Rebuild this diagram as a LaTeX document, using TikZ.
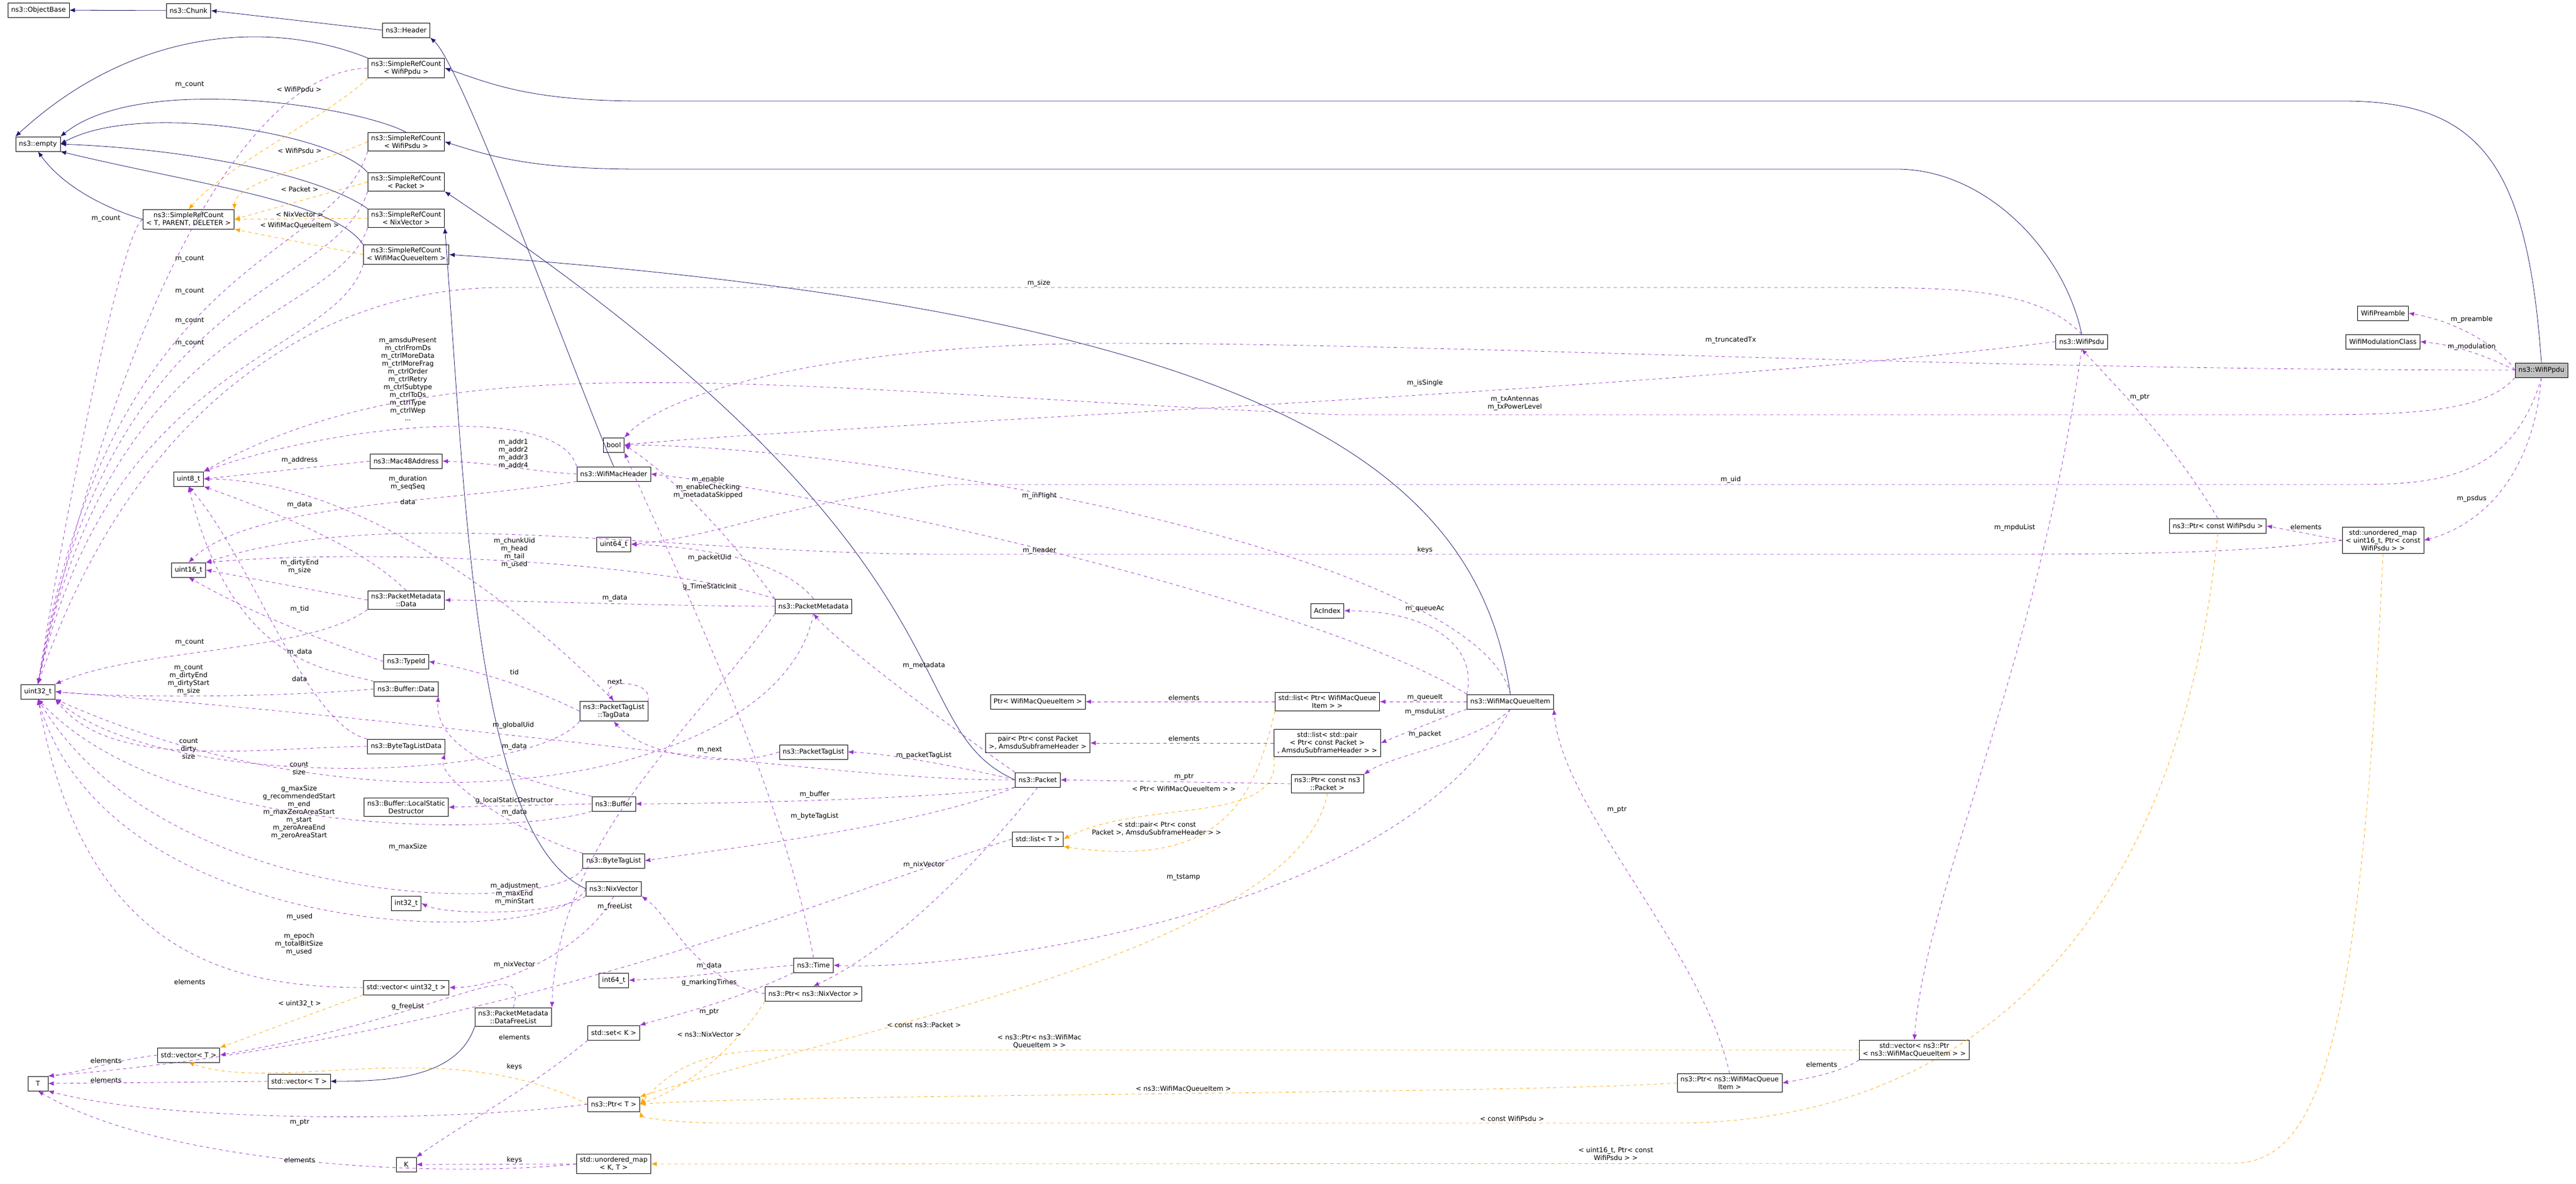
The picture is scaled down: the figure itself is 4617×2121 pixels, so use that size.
\documentclass[tikz,border=0pt]{standalone}
\usepackage{fontspec}
\setmainfont{DejaVu Sans}
\usetikzlibrary{arrows.meta}

\definecolor{inhblue}{RGB}{25,25,112}
\definecolor{usepurple}{RGB}{154,50,205}
\definecolor{tplorange}{RGB}{255,165,0}

\tikzset{
  cls/.style={draw=black, thin, fill=white, align=center, inner xsep=3pt, inner ysep=2.5pt,
    minimum height=13pt, font=\fontsize{6}{7}\selectfont},
  main/.style={cls, fill=black!25},
  lbl/.style={align=center, inner sep=0.5pt, font=\fontsize{6}{7}\selectfont},
  inh/.style={draw=inhblue, thin, -{Latex[length=5pt,width=4pt]}},
  use/.style={draw=usepurple, thin, dashed, -{Latex[length=5pt,width=4pt]}},
  tpl/.style={draw=tplorange, thin, dashed, -{Latex[length=5pt,width=4pt]}}
}

\begin{document}
\begin{tikzpicture}[x=0.5pt, y=-0.5pt]
  \useasboundingbox (0,0) rectangle (4617,2121);

  % classes, left part
  \node[cls] (objbase) at (69,18) {ns3::ObjectBase};
  \node[cls] (chunk) at (338,19) {ns3::Chunk};
  \node[cls] (header) at (728,54) {ns3::Header};
  \node[cls] (srcppdu) at (728,122) {ns3::SimpleRefCount\\< WifiPpdu >};
  \node[cls] (empty) at (68,258) {ns3::empty};
  \node[cls] (srcpsdu) at (728,254) {ns3::SimpleRefCount\\< WifiPsdu >};
  \node[cls] (srcpkt) at (728,326) {ns3::SimpleRefCount\\< Packet >};
  \node[cls] (srctpd) at (338,393) {ns3::SimpleRefCount\\< T, PARENT, DELETER >};
  \node[cls] (srcnix) at (728,391) {ns3::SimpleRefCount\\< NixVector >};
  \node[cls] (srcmqi) at (728,456) {ns3::SimpleRefCount\\< WifiMacQueueItem >};
  \node[cls] (bool) at (1100,797) {bool};
  \node[cls] (mac48) at (728,826) {ns3::Mac48Address};
  \node[cls] (wmh) at (1100,849) {ns3::WifiMacHeader};
  \node[cls] (u8) at (338,858) {uint8\_t};
  \node[cls] (u64) at (1100,975) {uint64\_t};
  \node[cls] (u16) at (338,1021) {uint16\_t};
  \node[cls] (pmdata) at (728,1075) {ns3::PacketMetadata\\::Data};
  \node[cls] (typeid) at (728,1185) {ns3::TypeId};
  \node[cls] (bufdata) at (728,1234) {ns3::Buffer::Data};
  \node[cls] (u32) at (68,1239) {uint32\_t};
  \node[cls] (tagdata) at (1100,1274) {ns3::PacketTagList\\::TagData};
  \node[cls] (btldata) at (728,1337) {ns3::ByteTagListData};
  \node[cls] (buffer) at (1100,1440) {ns3::Buffer};
  \node[cls] (lsd) at (728,1446) {ns3::Buffer::LocalStatic\\Destructor};
  \node[cls] (btl) at (1100,1542) {ns3::ByteTagList};
  \node[cls] (nixv) at (1100,1592) {ns3::NixVector};
  \node[cls] (i32) at (728,1618) {int32\_t};
  \node[cls] (i64) at (1100,1756) {int64\_t};
  \node[cls] (vecu32) at (728,1769) {std::vector< uint32\_t >};
  \node[cls] (dfl) at (920,1822) {ns3::PacketMetadata\\::DataFreeList};
  \node[cls] (setk) at (1100,1850) {std::set< K >};
  \node[cls] (vect) at (338,1890) {std::vector< T >};
  \node[cls] (vectb) at (536,1937) {std::vector< T >};
  \node[cls, minimum width=18pt] (tt) at (68,1941) {T};
  \node[cls] (ptrt) at (1100,1978) {ns3::Ptr< T >};
  \node[cls] (umapkt) at (1100,2085) {std::unordered\_map\\< K, T >};
  \node[cls, minimum width=18pt] (kk) at (728,2086) {K};

  % classes, middle part
  \node[cls] (pmeta) at (1458,1086) {ns3::PacketMetadata};
  \node[cls] (ptl) at (1458,1347) {ns3::PacketTagList};
  \node[cls] (time) at (1458,1729) {ns3::Time};
  \node[cls] (ptrnix) at (1458,1780) {ns3::Ptr< ns3::NixVector >};
  \node[cls] (ptrmqitxt) at (1860,1257) {Ptr< WifiMacQueueItem >};
  \node[cls] (pairbox) at (1860,1331) {pair< Ptr< const Packet\\ >, AmsduSubframeHeader >};
  \node[cls] (packet) at (1860,1397) {ns3::Packet};
  \node[cls] (listt) at (1860,1503) {std::list< T >};
  \node[cls] (acidx) at (2379,1094) {AcIndex};
  \node[cls] (listptr) at (2379,1257) {std::list< Ptr< WifiMacQueue\\Item > >};
  \node[cls] (listpair) at (2379,1331) {std::list< std::pair\\< Ptr< const Packet >\\, AmsduSubframeHeader > >};
  \node[cls] (ptrcpkt) at (2379,1404) {ns3::Ptr< const ns3\\::Packet >};
  \node[cls] (wmqi) at (2707,1257) {ns3::WifiMacQueueItem};

  % classes, right part
  \node[cls] (wpsdu) at (3731,612) {ns3::WifiPsdu};
  \node[cls] (preamble) at (4271,561) {WifiPreamble};
  \node[cls] (modclass) at (4271,612) {WifiModulationClass};
  \node[main] (wppdu) at (4555,663) {ns3::WifiPpdu};
  \node[cls] (ptrcpsdu) at (3975,942) {ns3::Ptr< const WifiPsdu >};
  \node[cls] (umap16) at (4271,968) {std::unordered\_map\\< uint16\_t, Ptr< const\\WifiPsdu > >};
  \node[cls] (vecptrmqi) at (3431,1881) {std::vector< ns3::Ptr\\< ns3::WifiMacQueueItem > >};
  \node[cls] (ptrmqi) at (3100,1940) {ns3::Ptr< ns3::WifiMacQueue\\Item >};

  % inheritance
  \draw[inh] (chunk) -- (objbase);
  \draw[inh] (header.west) -- (chunk.east);
  \draw[inh] (srcppdu.north west) .. controls (500,40) and (250,40) .. (empty.north west);
  \draw[inh] (srcpsdu.north) .. controls (640,190) and (250,130) .. (empty.north east);
  \draw[inh] (srcpkt.north west) .. controls (600,240) and (250,180) .. (empty.east);
  \draw[inh] (srcnix.north west) .. controls (600,330) and (400,270) .. (empty.east);
  \draw[inh] (srcmqi.north west) .. controls (600,360) and (350,330) .. (empty.south east);
  \draw[inh] (srctpd.west) .. controls (180,370) and (110,330) .. (empty.south);
  \draw[inh] (wmh.north) .. controls (1040,700) and (830,120) .. (header.south east);
  \draw[inh] (wppdu.north) .. controls (4530,300) and (4450,181) .. (4200,181) -- (1150,181)
    .. controls (950,181) and (880,150) .. (srcppdu.east);
  \draw[inh] (wpsdu.north) .. controls (3700,450) and (3560,303) .. (3400,303) -- (1150,303)
    .. controls (950,303) and (880,280) .. (srcpsdu.east);
  \draw[inh] (packet.west) .. controls (1600,1300) and (1780,1000) .. (srcpkt.south east);
  \draw[inh] (nixv.west) .. controls (850,1500) and (835,900) .. (srcnix.south east);
  \draw[inh] (wmqi.north) .. controls (2650,850) and (2300,560) .. (srcmqi.east);
  \draw[inh] (dfl.south west) .. controls (820,1930) and (700,1937) .. (vectb.east);

  % template instances
  \draw[tpl] (srcppdu.south west) .. controls (600,200) and (400,300) .. (srctpd.north);
  \draw[tpl] (srcpsdu.west) .. controls (550,300) and (420,330) .. (srctpd.north east);
  \draw[tpl] (srcpkt.west) -- (srctpd.east);
  \draw[tpl] (srcnix.west) -- (srctpd.east);
  \draw[tpl] (srcmqi.west) -- (srctpd.south east);
  \draw[tpl] (vecu32.south west) -- (vect.north east);
  \draw[tpl] (listpair.south west) .. controls (2300,1480) and (2050,1430) .. (listt.east);
  \draw[tpl] (listptr.south west) .. controls (2250,1420) and (2200,1560) .. (listt.south east);
  \draw[tpl] (ptrcpkt.south) .. controls (2330,1700) and (1500,1850) .. (ptrt.north east);
  \draw[tpl] (ptrnix.south west) .. controls (1330,1860) and (1250,1940) .. (ptrt.east);
  \draw[tpl] (vecptrmqi.west) -- (1400,1881) .. controls (1250,1881) and (1200,1920) .. (ptrt.east);
  \draw[tpl] (ptrmqi.west) .. controls (2700,1960) and (1400,1960) .. (ptrt.east);
  \draw[tpl] (ptrcpsdu.south) .. controls (3900,1700) and (3500,2012) .. (3000,2012)
    -- (1300,2012) .. controls (1200,2012) and (1150,2000) .. (ptrt.south east);
  \draw[tpl] (umap16.south) .. controls (4230,1900) and (4150,2084) .. (4000,2084) -- (umapkt.east);
  \draw[tpl] (ptrt.west) .. controls (800,1850) and (500,1960) .. (vect.south);

  % members, left part
  \draw[use] (srcppdu.west) .. controls (400,130) and (180,700) .. (u32.north);
  \draw[use] (srctpd.west) .. controls (220,410) and (120,900) .. (u32.north);
  \draw[use] (srcpsdu.south west) .. controls (600,470) and (200,450) .. (u32.north);
  \draw[use] (srcpkt.south west) .. controls (600,530) and (200,500) .. (u32.north);
  \draw[use] (srcnix.south west) .. controls (600,580) and (200,560) .. (u32.north);
  \draw[use] (srcmqi.south west) .. controls (600,640) and (200,640) .. (u32.north);
  \draw[use] (wmh.north west) .. controls (1000,720) and (600,760) .. (u8.north east);
  \draw[use] (wmh.west) .. controls (950,845) and (900,830) .. (mac48.east);
  \draw[use] (wmh.south west) .. controls (800,900) and (450,900) .. (u16.north);
  \draw[use] (mac48.west) -- (u8.east);
  \draw[use] (pmdata.north) .. controls (650,980) and (500,920) .. (u8.south east);
  \draw[use] (pmdata.west) -- (u16.east);
  \draw[use] (pmdata.south west) .. controls (550,1170) and (250,1160) .. (u32.north east);
  \draw[use] (typeid.west) .. controls (500,1120) and (420,1080) .. (u16.south);
  \draw[use] (bufdata.north west) .. controls (600,1200) and (420,1200) .. (u8.south);
  \draw[use] (bufdata.west) .. controls (500,1250) and (200,1250) .. (u32.east);
  \draw[use] (btldata.north west) .. controls (550,1300) and (450,1000) .. (u8.south);
  \draw[use] (btldata.west) .. controls (450,1340) and (200,1380) .. (u32.south east);
  \draw[use] (tagdata.north) .. controls (950,1100) and (650,860) .. (u8.east);
  \draw[use] (tagdata.west) .. controls (950,1230) and (850,1200) .. (typeid.east);
  \draw[use] (tagdata.north east) .. controls +(10,-40) and +(-30,-40) .. (tagdata.north);
  \draw[use] (tagdata.south west) .. controls (950,1400) and (300,1420) .. (u32.south east);
  \draw[use] (buffer.west) -- (lsd.east);
  \draw[use] (buffer.south west) .. controls (900,1500) and (300,1500) .. (u32.south);
  \draw[use] (buffer.north west) .. controls (850,1380) and (780,1320) .. (bufdata.south east);
  \draw[use] (btl.north west) .. controls (950,1500) and (780,1400) .. (btldata.south east);
  \draw[use] (btl.south west) .. controls (1000,1640) and (300,1640) .. (u32.south);
  \draw[use] (nixv.south west) .. controls (1000,1640) and (800,1640) .. (i32.east);
  \draw[use] (nixv.south) .. controls (1050,1700) and (900,1769) .. (vecu32.east);
  \draw[use] (nixv.west) .. controls (1000,1700) and (200,1700) .. (u32.south);
  \draw[use] (vecu32.west) .. controls (400,1769) and (150,1700) .. (u32.south);
  \draw[use] (vect.west) .. controls (200,1900) and (150,1920) .. (tt.north east);
  \draw[use] (vectb.west) -- (tt.east);
  \draw[use] (ptrt.west) .. controls (800,2011) and (300,2011) .. (tt.south east);
  \draw[use] (umapkt.west) .. controls (800,2110) and (300,2090) .. (tt.south);
  \draw[use] (umapkt.west) -- (kk.east);
  \draw[use] (setk.south west) .. controls (950,1950) and (850,2000) .. (kk.north east);
  \draw[use] (dfl.north) .. controls (950,1700) and (800,1820) .. (vect.east);

  % members, middle part
  \draw[use] (pmeta.north west) .. controls (1300,950) and (1200,850) .. (bool.east);
  \draw[use] (pmeta.north) .. controls (1400,1000) and (1250,980) .. (u64.east);
  \draw[use] (pmeta.west) .. controls (1200,1086) and (900,1075) .. (pmdata.east);
  \draw[use] (pmeta.north west) .. controls (1200,1010) and (700,980) .. (u16.north east);
  \draw[use] (pmeta.south west) .. controls (1250,1300) and (1000,1500) .. (dfl.north east);
  \draw[use] (pmeta.south) .. controls (1400,1400) and (700,1520) .. (u32.south east);
  \draw[use] (ptl.west) .. controls (1300,1380) and (1150,1350) .. (tagdata.south);
  \draw[use] (packet.north west) .. controls (1700,1300) and (1500,1150) .. (pmeta.south);
  \draw[use] (packet.west) .. controls (1750,1380) and (1600,1350) .. (ptl.east);
  \draw[use] (packet.west) .. controls (1500,1400) and (900,1300) .. (u32.east);
  \draw[use] (packet.south west) .. controls (1700,1430) and (1300,1440) .. (buffer.east);
  \draw[use] (packet.south west) .. controls (1650,1480) and (1300,1520) .. (btl.east);
  \draw[use] (packet.south) .. controls (1750,1550) and (1600,1700) .. (ptrnix.north);
  \draw[use] (time.north) .. controls (1400,1400) and (1200,1000) .. (bool.south east);
  \draw[use] (time.west) .. controls (1300,1740) and (1250,1750) .. (i64.east);
  \draw[use] (time.south west) .. controls (1300,1800) and (1200,1820) .. (setk.north east);
  \draw[use] (ptrnix.west) .. controls (1250,1760) and (1200,1640) .. (nixv.south east);
  \draw[use] (listt.west) .. controls (1500,1600) and (900,1860) .. (tt.north east);
  \draw[use] (listptr.west) -- (ptrmqitxt.east);
  \draw[use] (listpair.west) -- (pairbox.east);
  \draw[use] (ptrcpkt.west) -- (packet.east);
  \draw[use] (wmqi.west) -- (listptr.east);
  \draw[use] (wmqi.south west) .. controls (2600,1280) and (2550,1300) .. (listpair.east);
  \draw[use] (wmqi.south) .. controls (2650,1330) and (2500,1350) .. (ptrcpkt.north east);
  \draw[use] (wmqi.north west) .. controls (2650,1150) and (2550,1094) .. (acidx.east);
  \draw[use] (wmqi.north west) .. controls (2400,1100) and (1600,900) .. (wmh.east);
  \draw[use] (wmqi.north) .. controls (2650,1000) and (1600,800) .. (bool.east);
  \draw[use] (wmqi.south) .. controls (2500,1650) and (1700,1740) .. (time.east);

  % members, right part
  \draw[use] (wpsdu.north) .. controls (3650,515) and (3500,515) .. (3300,515) -- (900,515)
    .. controls (600,515) and (250,700) .. (u32.north);
  \draw[use] (wpsdu.west) .. controls (3000,700) and (1500,760) .. (bool.east);
  \draw[use] (wpsdu.south) .. controls (3650,1200) and (3450,1600) .. (vecptrmqi.north);
  \draw[use] (wppdu.west) .. controls (3500,663) and (2600,615) .. (2000,615)
    .. controls (1500,615) and (1200,700) .. (bool.north east);
  \draw[use] (wppdu.south west) .. controls (4450,743) and (4300,743) .. (4100,743) -- (2400,743)
    .. controls (1400,700) and (800,600) .. (u8.north east);
  \draw[use] (wppdu.south) .. controls (4500,868) and (4350,868) .. (4200,868) -- (1700,868)
    .. controls (1400,900) and (1300,960) .. (u64.east);
  \draw[use] (wppdu.west) .. controls (4480,620) and (4400,575) .. (preamble.east);
  \draw[use] (wppdu.west) .. controls (4480,650) and (4420,620) .. (modclass.east);
  \draw[use] (wppdu.south) .. controls (4540,850) and (4450,940) .. (umap16.east);
  \draw[use] (umap16.west) -- (ptrcpsdu.east);
  \draw[use] (umap16.west) .. controls (4000,993) and (3800,993) .. (3500,993) -- (1700,993)
    .. controls (1200,993) and (700,900) .. (u16.north east);
  \draw[use] (ptrcpsdu.north) .. controls (3900,800) and (3800,700) .. (wpsdu.south);
  \draw[use] (vecptrmqi.south west) .. controls (3300,1920) and (3250,1930) .. (ptrmqi.east);
  \draw[use] (ptrmqi.north) .. controls (3050,1700) and (2800,1450) .. (wmqi.south east);

  % member labels
  \node[lbl] (l1) at (340,152) {m\_count};
  \node[lbl] (l2) at (190,392) {m\_count};
  \node[lbl] (l3) at (340,464) {m\_count};
  \node[lbl] (l4) at (340,522) {m\_count};
  \node[lbl] (l5) at (340,575) {m\_count};
  \node[lbl] (l6) at (340,615) {m\_count};
  \node[lbl] (l7) at (731,679) {m\_amsduPresent\\m\_ctrlFromDs\\m\_ctrlMoreData\\m\_ctrlMoreFrag\\m\_ctrlOrder\\m\_ctrlRetry\\m\_ctrlSubtype\\m\_ctrlToDs\\m\_ctrlType\\m\_ctrlWep\\...};
  \node[lbl] (l8) at (537,824) {m\_address};
  \node[lbl] (l9) at (920,813) {m\_addr1\\m\_addr2\\m\_addr3\\m\_addr4};
  \node[lbl] (l10) at (731,865) {m\_duration\\m\_seqSeq};
  \node[lbl] (l11) at (537,904) {m\_data};
  \node[lbl] (l12) at (731,899) {data};
  \node[lbl] (l13) at (922,990) {m\_chunkUid\\m\_head\\m\_tail\\m\_used};
  \node[lbl] (l14) at (537,1015) {m\_dirtyEnd\\m\_size};
  \node[lbl] (l15) at (537,1091) {m\_tid};
  \node[lbl] (l16) at (1102,1071) {m\_data};
  \node[lbl] (l17) at (340,1151) {m\_count};
  \node[lbl] (l18) at (537,1168) {m\_data};
  \node[lbl] (l19) at (338,1218) {m\_count\\m\_dirtyEnd\\m\_dirtyStart\\m\_size};
  \node[lbl] (l20) at (537,1216) {data};
  \node[lbl] (l21) at (922,1204) {tid};
  \node[lbl] (l22) at (1102,1221) {next};
  \node[lbl] (l23) at (920,1299) {m\_globalUid};
  \node[lbl] (l24) at (338,1341) {count\\dirty\\size};
  \node[lbl] (l25) at (922,1337) {m\_data};
  \node[lbl] (l26) at (536,1376) {count\\size};
  \node[lbl] (l27) at (536,1455) {g\_maxSize\\g\_recommendedStart\\m\_end\\m\_maxZeroAreaStart\\m\_start\\m\_zeroAreaEnd\\m\_zeroAreaStart};
  \node[lbl] (l28) at (922,1434) {g\_localStaticDestructor};
  \node[lbl] (l29) at (922,1455) {m\_data};
  \node[lbl] (l30) at (731,1517) {m\_maxSize};
  \node[lbl] (l31) at (922,1601) {m\_adjustment\\m\_maxEnd\\m\_minStart};
  \node[lbl] (l32) at (1102,1624) {m\_freeList};
  \node[lbl] (l33) at (537,1642) {m\_used};
  \node[lbl] (l34) at (536,1691) {m\_epoch\\m\_totalBitSize\\m\_used};
  \node[lbl] (l35) at (922,1728) {m\_nixVector};
  \node[lbl] (l36) at (340,1759) {elements};
  \node[lbl] (l37) at (731,1803) {g\_freeList};
  \node[lbl] (l38) at (922,1858) {elements};
  \node[lbl] (l39) at (190,1900) {elements};
  \node[lbl] (l40) at (922,1911) {keys};
  \node[lbl] (l41) at (190,1935) {elements};
  \node[lbl] (l42) at (537,2011) {m\_ptr};
  \node[lbl] (l43) at (537,2078) {elements};
  \node[lbl] (l44) at (922,2078) {keys};
  \node[lbl] (l45) at (1269,873) {m\_enable\\m\_enableChecking\\m\_metadataSkipped};
  \node[lbl] (l46) at (1863,888) {m\_inFlight};
  \node[lbl] (l47) at (1272,999) {m\_packetUid};
  \node[lbl] (l48) at (1863,986) {m\_header};
  \node[lbl] (l49) at (2554,985) {keys};
  \node[lbl] (l50) at (1272,1051) {g\_TimeStaticInit};
  \node[lbl] (l51) at (2554,1091) {m\_queueAc};
  \node[lbl] (l52) at (1656,1192) {m\_metadata};
  \node[lbl] (l53) at (2122,1250) {elements};
  \node[lbl] (l54) at (2554,1250) {m\_queueIt};
  \node[lbl] (l55) at (2554,1275) {m\_msduList};
  \node[lbl] (l56) at (2122,1323) {elements};
  \node[lbl] (l57) at (2554,1315) {m\_packet};
  \node[lbl] (l58) at (1272,1344) {m\_next};
  \node[lbl] (l59) at (1656,1353) {m\_packetTagList};
  \node[lbl] (l60) at (2122,1392) {m\_ptr};
  \node[lbl] (l61) at (1460,1423) {m\_buffer};
  \node[lbl] (l62) at (1460,1462) {m\_byteTagList};
  \node[lbl] (l63) at (1656,1549) {m\_nixVector};
  \node[lbl] (l64) at (2121,1572) {m\_tstamp};
  \node[lbl] (l65) at (1271,1730) {m\_data};
  \node[lbl] (l66) at (1271,1760) {g\_markingTimes};
  \node[lbl] (l67) at (1271,1813) {m\_ptr};
  \node[lbl] (l68) at (1862,507) {m\_size};
  \node[lbl] (l69) at (2554,686) {m\_isSingle};
  \node[lbl] (l70) at (3102,609) {m\_truncatedTx};
  \node[lbl] (l71) at (2715,723) {m\_txAntennas\\m\_txPowerLevel};
  \node[lbl] (l72) at (3102,859) {m\_uid};
  \node[lbl] (l73) at (4430,572) {m\_preamble};
  \node[lbl] (l74) at (4430,621) {m\_modulation};
  \node[lbl] (l75) at (3835,712) {m\_ptr};
  \node[lbl] (l76) at (4430,893) {m\_psdus};
  \node[lbl] (l77) at (4133,944) {elements};
  \node[lbl] (l78) at (3611,945) {m\_mpduList};
  \node[lbl] (l79) at (2898,1451) {m\_ptr};
  \node[lbl] (l80) at (3265,1907) {elements};

  % template labels
  \node[lbl] (t1) at (536,161) {< WifiPpdu >};
  \node[lbl] (t2) at (537,270) {< WifiPsdu >};
  \node[lbl] (t3) at (537,339) {< Packet >};
  \node[lbl] (t4) at (537,384) {< NixVector >};
  \node[lbl] (t5) at (537,404) {< WifiMacQueueItem >};
  \node[lbl] (t6) at (537,1798) {< uint32\_t >};
  \node[lbl] (t7) at (2122,1414) {< Ptr< WifiMacQueueItem > >};
  \node[lbl] (t8) at (2073,1485) {< std::pair< Ptr< const\\Packet >, AmsduSubframeHeader > >};
  \node[lbl] (t9) at (1656,1836) {< const ns3::Packet >};
  \node[lbl] (t10) at (1271,1853) {< ns3::NixVector >};
  \node[lbl] (t11) at (1863,1866) {< ns3::Ptr< ns3::WifiMac\\QueueItem > >};
  \node[lbl] (t12) at (2121,1951) {< ns3::WifiMacQueueItem >};
  \node[lbl] (t13) at (2710,2004) {< const WifiPsdu >};
  \node[lbl] (t14) at (2896,2067) {< uint16\_t, Ptr< const\\WifiPsdu > >};
\end{tikzpicture}
\end{document}
